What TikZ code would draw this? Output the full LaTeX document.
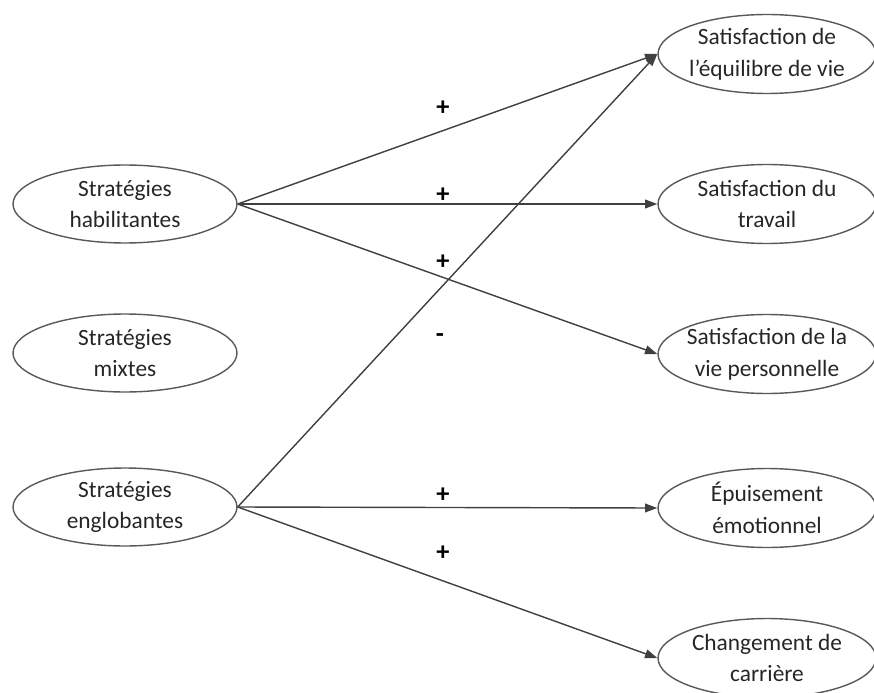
\documentclass[tikz,border=0pt]{standalone}
\usepackage{fontspec}
\setmainfont{Carlito}
\usetikzlibrary{shapes.geometric,arrows.meta}
\begin{document}
\begin{tikzpicture}[x=0.02cm,y=-0.02cm,
        strat/.style = {ellipse, draw=black!65, line width=0.8pt, minimum width=4.48cm, minimum height=1.56cm,
            inner xsep=-0.6cm, inner ysep=-0.2cm, align=center, text=black!85, font=\fontsize{13.3}{18}\selectfont},
        effet/.style = {strat, minimum width=4.36cm, minimum height=1.58cm},
        lien/.style = {draw=black!75, line width=0.8pt, -{Triangle[length=7pt,width=5pt]}},
        signe/.style = {font=\fontsize{15}{15}\selectfont\bfseries}]
    \useasboundingbox (0,0) rectangle (874,692);
    % strategies
    \node[strat] (habil) at (125,204) {Stratégies\\habilitantes};
    \node[strat] (mixtes) at (125,353) {Stratégies\\mixtes};
    \node[strat] (englob) at (125,507) {Stratégies\\englobantes};
    % effets
    \node[effet] (equilibre) at (767,54) {Satisfaction de\\l’équilibre de vie};
    \node[effet] (travail) at (767,204) {Satisfaction du\\travail};
    \node[effet] (vieperso) at (767,354) {Satisfaction de la\\vie personnelle};
    \node[effet] (epuis) at (767,508) {Épuisement\\émotionnel};
    \node[effet] (carriere) at (767,658) {Changement de\\carrière};
    % liens
    \draw[lien] (habil.east) -- (equilibre.west);
    \draw[lien] (habil.east) -- (travail.west);
    \draw[lien] (habil.east) -- (vieperso.west);
    \draw[lien] (englob.east) -- (equilibre.west);
    \draw[lien] (englob.east) -- (epuis.west);
    \draw[lien] (englob.east) -- (carriere.west);
    % signes
    \node[signe] (s1) at (443,108) {+};
    \node[signe] (s2) at (443,195) {+};
    \node[signe] (s3) at (443,262) {+};
    \node[signe] (s4) at (440,338) {-};
    \node[signe] (s5) at (443,495) {+};
    \node[signe] (s6) at (443,553) {+};
\end{tikzpicture}
\end{document}
